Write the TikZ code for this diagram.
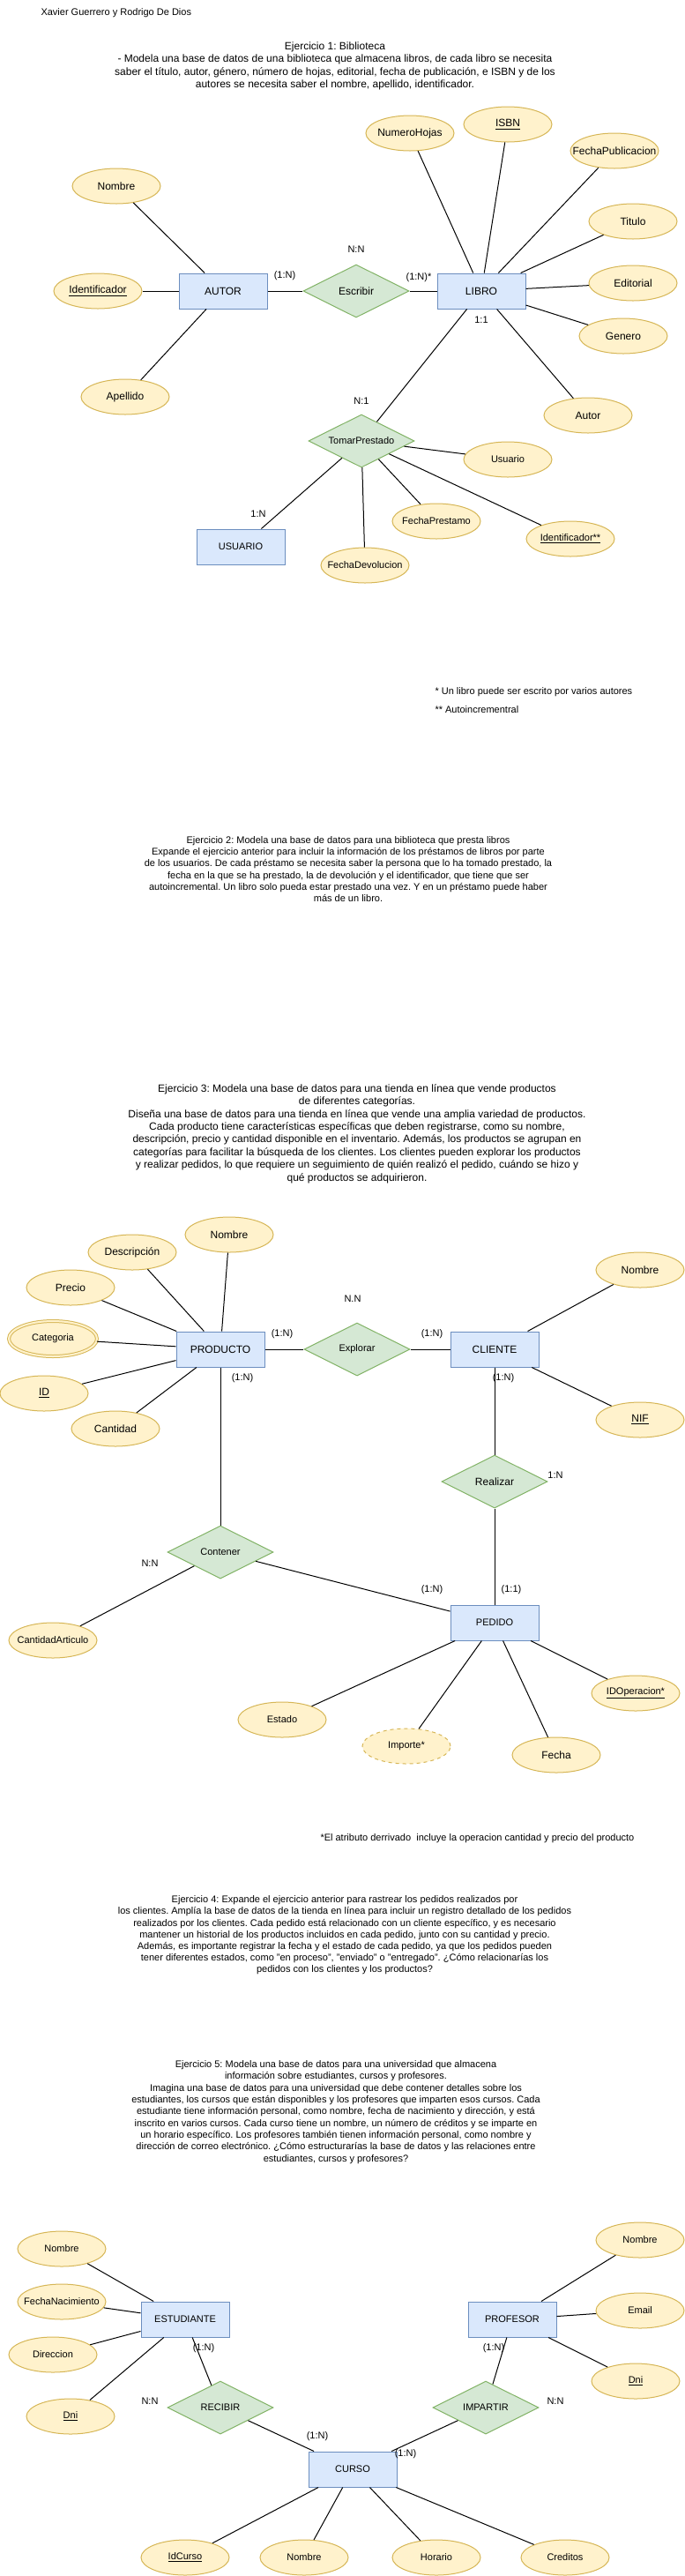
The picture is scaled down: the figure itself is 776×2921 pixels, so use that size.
\documentclass[tikz,border=0pt]{standalone}
\usepackage{fontspec}
\setmainfont{Liberation Sans}
\frenchspacing
\usetikzlibrary{shapes.geometric}
\definecolor{entfill}{HTML}{DAE8FC}
\definecolor{entline}{HTML}{6C8EBF}
\definecolor{atrfill}{HTML}{FFF2CC}
\definecolor{atrline}{HTML}{D6B656}
\definecolor{relfill}{HTML}{D5E8D4}
\definecolor{relline}{HTML}{82B366}

\begin{document}
\begin{tikzpicture}[x=0.75pt,y=-0.75pt,line width=0.75pt,
      ent/.style={draw=entline,fill=entfill,minimum width=75pt,minimum height=30pt,inner sep=0pt,font=\fontsize{9}{10}\selectfont},
      atr/.style={ellipse,draw=atrline,fill=atrfill,minimum width=75pt,minimum height=30pt,inner xsep=-12pt,inner ysep=0pt,font=\fontsize{9}{10}\selectfont},
      rel/.style={diamond,aspect=2,draw=relline,fill=relfill,minimum width=90pt,minimum height=45pt,inner sep=0pt,font=\fontsize{9}{10}\selectfont},
      sm/.style={font=\fontsize{8.25}{9}\selectfont},
      lbl/.style={inner sep=0pt,font=\fontsize{8.25}{9}\selectfont},
      txt/.style={align=center,inner sep=0pt}]
    \useasboundingbox (0,0) rectangle (776,2921);

    \node[lbl,anchor=west] (firma) at (46,15) {Xavier Guerrero y Rodrigo De Dios};

    % ejercicio 1
    \node[txt,font=\fontsize{9}{10.9}\selectfont] (ej1) at (380,75) {Ejercicio 1: Biblioteca\\- Modela una base de datos de una biblioteca que almacena libros, de cada libro se necesita\\saber el título, autor, género, número de hojas, editorial, fecha de publicación, e ISBN y de los\\autores se necesita saber el nombre, apellido, identificador.};
    \node[ent] (autor) at (253,330) {AUTOR};
    \node[rel] (escr) at (404,330) {Escribir};
    \node[ent] (libro) at (546,330) {LIBRO};
    \node[atr] (nom1) at (132,211) {Nombre};
    \node[atr] (idf1) at (111,330) {\underline{Identificador}};
    \node[atr] (ape1) at (142,450) {Apellido};
    \node[atr] (nh) at (465,151) {NumeroHojas};
    \node[atr] (isbn) at (576,141) {\underline{ISBN}};
    \node[atr] (fp) at (697,171) {FechaPublicacion};
    \node[atr] (tit) at (718,251) {Titulo};
    \node[atr] (edi) at (718,321) {Editorial};
    \node[atr] (gen) at (707,381) {Genero};
    \node[atr] (aut) at (667,471) {Autor};
    \node[rel,sm] (tp) at (410,500) {TomarPrestado};
    \node[ent,sm] (usuario) at (273,620) {USUARIO};
    \node[atr,sm] (usr) at (576,521) {Usuario};
    \node[atr,sm] (fpr) at (495,591) {FechaPrestamo};
    \node[atr,sm] (idp) at (647,611) {\underline{Identificador**}};
    \node[atr,sm] (fdv) at (414,641) {FechaDevolucion};
    \node[lbl] (c1) at (404,283) {N:N};
    \node[lbl] (c2) at (323,313) {(1:N)};
    \node[lbl] (c3) at (475,315) {(1:N)*};
    \node[lbl] (c4) at (546,363) {1:1};
    \node[lbl] (c5) at (410,455) {N:1};
    \node[lbl] (c6) at (293,583) {1:N};
    \node[lbl,anchor=west] (nota1) at (493,785) {* Un libro puede ser escrito por varios autores};
    \node[lbl,anchor=west] (nota2) at (493,805) {** Autoincrementral};
    \foreach \a in {nom1,idf1,ape1,escr} \draw (autor) -- (\a);
    \foreach \a in {escr,nh,isbn,fp,tit,edi,gen,aut,tp} \draw (libro) -- (\a);
    \foreach \a in {usr,fpr,idp,fdv,usuario} \draw (tp) -- (\a);

    % ejercicio 2
    \node[txt,font=\fontsize{8.25}{10}\selectfont] (ej2) at (395,985.5) {Ejercicio 2: Modela una base de datos para una biblioteca que presta libros\\Expande el ejercicio anterior para incluir la información de los préstamos de libros por parte\\de los usuarios. De cada préstamo se necesita saber la persona que lo ha tomado prestado, la\\fecha en la que se ha prestado, la de devolución y el identificador, que tiene que ser\\autoincremental. Un libro solo pueda estar prestado una vez. Y en un préstamo puede haber\\más de un libro.};

    % ejercicio 3
    \node[txt,font=\fontsize{9}{10.8}\selectfont] (ej3) at (405,1285.5) {Ejercicio 3: Modela una base de datos para una tienda en línea que vende productos\\de diferentes categorías.\\Diseña una base de datos para una tienda en línea que vende una amplia variedad de productos.\\Cada producto tiene características específicas que deben registrarse, como su nombre,\\descripción, precio y cantidad disponible en el inventario. Además, los productos se agrupan en\\categorías para facilitar la búsqueda de los clientes. Los clientes pueden explorar los productos\\y realizar pedidos, lo que requiere un seguimiento de quién realizó el pedido, cuándo se hizo y\\qué productos se adquirieron.};
    \node[ent] (prod) at (250,1530) {PRODUCTO};
    \node[rel,sm] (expl) at (405,1530) {Explorar};
    \node[ent] (cli) at (561,1530) {CLIENTE};
    \node[atr] (nom3) at (260,1400) {Nombre};
    \node[atr] (desc) at (150,1420) {Descripción};
    \node[atr] (prec) at (80,1460) {Precio};
    \node[atr,sm,double=atrfill,double distance=1.5pt] (cat) at (60,1518) {Categoria};
    \node[atr] (id3) at (50,1580) {\underline{ID}};
    \node[atr] (cant) at (131,1620) {Cantidad};
    \node[atr] (nomc) at (726,1440) {Nombre};
    \node[atr] (nif) at (726,1610) {\underline{NIF}};
    \node[rel] (real) at (561,1680) {Realizar};
    \node[rel,sm] (cont) at (250,1760) {Contener};
    \node[ent,sm] (ped) at (561,1840) {PEDIDO};
    \node[atr,sm] (cart) at (60,1860) {CantidadArticulo};
    \node[atr,sm] (idop) at (721,1920) {\underline{IDOperacion*}};
    \node[atr,sm] (est) at (320,1950) {Estado};
    \node[atr,sm,dashed] (imp) at (461,1980) {Importe*};
    \node[atr] (fec) at (631,1990) {Fecha};
    \node[lbl] (d1) at (400,1473) {N.N};
    \node[lbl] (d2) at (320,1513) {(1:N)};
    \node[lbl] (d3) at (490,1513) {(1:N)};
    \node[lbl] (d4) at (275,1563) {(1:N)};
    \node[lbl] (d5) at (571,1563) {(1:N)};
    \node[lbl] (d6) at (630,1673) {1:N};
    \node[lbl] (d7) at (170,1773) {N:N};
    \node[lbl] (d8) at (490,1803) {(1:N)};
    \node[lbl] (d9) at (580,1803) {(1:1)};
    \node[lbl,anchor=west] (nota3) at (363,2085) {*El atributo derrivado~ incluye la operacion cantidad y precio del producto};
    \foreach \a in {nom3,desc,prec,cat,id3,cant,expl,cont} \draw (prod) -- (\a);
    \foreach \a in {expl,nomc,nif,real} \draw (cli) -- (\a);
    \foreach \a in {real,cont,est,imp,fec,idop} \draw (ped) -- (\a);
    \draw (cont) -- (cart);

    % ejercicio 4
    \node[txt,font=\fontsize{8.25}{9.9}\selectfont] (ej4) at (391,2194.5) {Ejercicio 4: Expande el ejercicio anterior para rastrear los pedidos realizados por\\los clientes. Amplía la base de datos de la tienda en línea para incluir un registro detallado de los pedidos\\realizados por los clientes. Cada pedido está relacionado con un cliente específico, y es necesario\\mantener un historial de los productos incluidos en cada pedido, junto con su cantidad y precio.\\Además, es importante registrar la fecha y el estado de cada pedido, ya que los pedidos pueden\\tener diferentes estados, como "en proceso", "enviado" o "entregado". ¿Cómo relacionarías los\\pedidos con los clientes y los productos?};

    % ejercicio 5
    \node[txt,font=\fontsize{8.25}{10}\selectfont] (ej5) at (381,2395) {Ejercicio 5: Modela una base de datos para una universidad que almacena\\información sobre estudiantes, cursos y profesores.\\Imagina una base de datos para una universidad que debe contener detalles sobre los\\estudiantes, los cursos que están disponibles y los profesores que imparten esos cursos. Cada\\estudiante tiene información personal, como nombre, fecha de nacimiento y dirección, y está\\inscrito en varios cursos. Cada curso tiene un nombre, un número de créditos y se imparte en\\un horario específico. Los profesores también tienen información personal, como nombre y\\dirección de correo electrónico. ¿Cómo estructurarías la base de datos y las relaciones entre\\estudiantes, cursos y profesores?};
    \node[ent,sm] (estu) at (210,2630) {ESTUDIANTE};
    \node[ent,sm] (prof) at (581,2630) {PROFESOR};
    \node[ent,sm] (curso) at (400,2800) {CURSO};
    \node[rel,sm] (rec) at (250,2730) {RECIBIR};
    \node[rel,sm] (impa) at (551,2730) {IMPARTIR};
    \node[atr,sm] (nom5) at (70,2550) {Nombre};
    \node[atr,sm] (fnac) at (70,2610) {FechaNacimiento};
    \node[atr,sm] (dir) at (60,2670) {Direccion};
    \node[atr,sm] (dni5) at (80,2740) {\underline{Dni}};
    \node[atr,sm] (nomp) at (726,2540) {Nombre};
    \node[atr,sm] (email) at (726,2620) {Email};
    \node[atr,sm] (dnip) at (721,2700) {\underline{Dni}};
    \node[atr,sm] (idc) at (210,2900) {\underline{IdCurso}};
    \node[atr,sm] (nomcu) at (345,2900) {Nombre};
    \node[atr,sm] (hor) at (495,2900) {Horario};
    \node[atr,sm] (cred) at (641,2900) {Creditos};
    \node[lbl] (e1) at (170,2723) {N:N};
    \node[lbl] (e2) at (630,2723) {N:N};
    \node[lbl] (e3) at (231,2663) {(1:N)};
    \node[lbl] (e4) at (560,2663) {(1:N)};
    \node[lbl] (e5) at (360,2763) {(1:N)};
    \node[lbl] (e6) at (460,2783) {(1:N)};
    \foreach \a in {nom5,fnac,dir,dni5,rec} \draw (estu) -- (\a);
    \foreach \a in {nomp,email,dnip,impa} \draw (prof) -- (\a);
    \foreach \a in {rec,impa,idc,nomcu,hor,cred} \draw (curso) -- (\a);
\end{tikzpicture}
\end{document}
